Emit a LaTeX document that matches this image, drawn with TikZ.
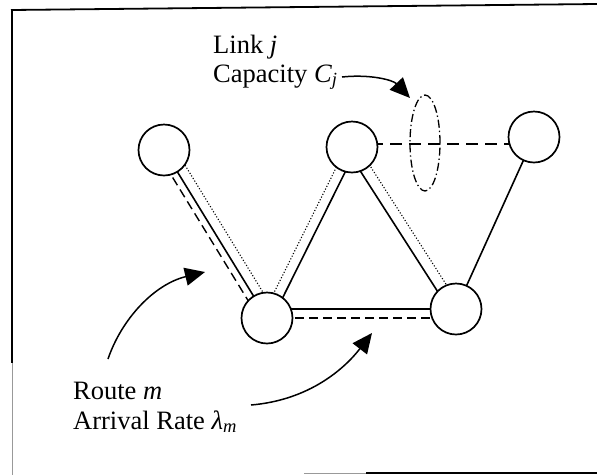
\documentclass[tikz,border=0pt]{standalone}
\usepackage{fontspec}
\setmainfont{Liberation Serif}
\usetikzlibrary{calc,shapes.geometric,arrows.meta,backgrounds}

\begin{document}
\begin{tikzpicture}[x=1pt,y=1pt,
  station/.style={circle,draw,fill=white,line width=1.7pt,minimum size=51pt,inner sep=0pt},
  link/.style={line width=1.6pt},
  routedash/.style={line width=1.4pt,dash pattern=on 9pt off 5pt},
  routedot/.style={line width=1.1pt,dash pattern=on 1.1pt off 1.9pt},
  caplink/.style={line width=2pt,dash pattern=on 12pt off 7pt},
  linkmark/.style={ellipse,draw,line width=1.3pt,dash pattern=on 8pt off 3pt on 1.3pt off 3pt,
    minimum width=30pt,minimum height=96pt,inner sep=0pt},
  callout/.style={line width=1.5pt,-{Triangle[length=20pt,width=18pt]}},
  lbl/.style={anchor=base west,inner sep=0pt,font=\fontsize{26.5}{31}\selectfont},
  frame/.style={line width=1.8pt},
  faint/.style={line width=1pt,black!40}
]
\useasboundingbox (0,0) rectangle (597,-475);

% partial border
\draw[frame] (11,-10) -- (597,-4);
\draw[frame] (12,-10) -- (12,-363);
\draw[faint] (12,-363) -- (12,-475);
\draw[faint] (304,-473) -- (366,-473);
\draw[frame] (366,-473) -- (597,-473);

% stations
\node[station] (A) at (164,-150) {};
\node[station] (B) at (267,-318) {};
\node[station] (C) at (456,-309) {};
\node[station] (D) at (352,-147) {};
\node[station] (E) at (534,-137) {};

% links and routes, kept behind the stations
\begin{pgfonlayer}{background}
  % A -- B
  \draw[link] (A.center) -- (B.center);
  \draw[routedash] ($(A.center)!7pt!-90:(B.center)$) -- ($(B.center)!7pt!90:(A.center)$);
  \draw[routedot] ($(A.center)!10pt!90:(B.center)$) -- ($(B.center)!10pt!-90:(A.center)$);
  % B -- D
  \draw[link] ($(B.center)!5pt!-90:(D.center)$) -- ($(D.center)!5pt!90:(B.center)$);
  \draw[routedot] ($(B.center)!5pt!90:(D.center)$) -- ($(D.center)!5pt!-90:(B.center)$);
  % D -- C
  \draw[link] ($(D.center)!6pt!-90:(C.center)$) -- ($(C.center)!6pt!90:(D.center)$);
  \draw[routedot] ($(D.center)!5pt!90:(C.center)$) -- ($(C.center)!5pt!-90:(D.center)$);
  % B -- C
  \draw[link] (B.center |- C.center) -- (C.center);
  \draw[routedash] (B.center) -- (C.center |- B.center);
  % C -- E
  \draw[link] (C.center) -- (E.center);
  % D -- E, the marked link
  \draw[caplink] ([yshift=3pt]D.center) -- ([yshift=3pt]E.center |- D.center);
\end{pgfonlayer}

\node[linkmark] (J) at (425,-143) {};

% labels
\node[lbl] (linkj) at (213,-53) {Link \textit{j}};
\node[lbl] (capj) at (213,-82) {Capacity \textit{C}\textsubscript{\textit{j}}};
\node[lbl] (route) at (73,-399) {Route \textit{m}};
\node[lbl] (rate) at (73,-429) {Arrival Rate \textit{λ}\textsubscript{\textit{m}}};

% callout arrows
\coordinate (capstart) at (342,-77);
\coordinate (captip) at (410,-98);
\draw[callout] (capstart) .. controls (370,-74) and (393,-80) .. (captip);

\coordinate (rstart) at (108,-359);
\coordinate (rtip) at (205,-272);
\draw[callout] (rstart) .. controls (122,-318) and (155,-284) .. (rtip);

\coordinate (astart) at (251,-405);
\coordinate (atip) at (372,-333);
\draw[callout] (astart) .. controls (310,-400) and (345,-368) .. (atip);
\end{tikzpicture}
\end{document}
